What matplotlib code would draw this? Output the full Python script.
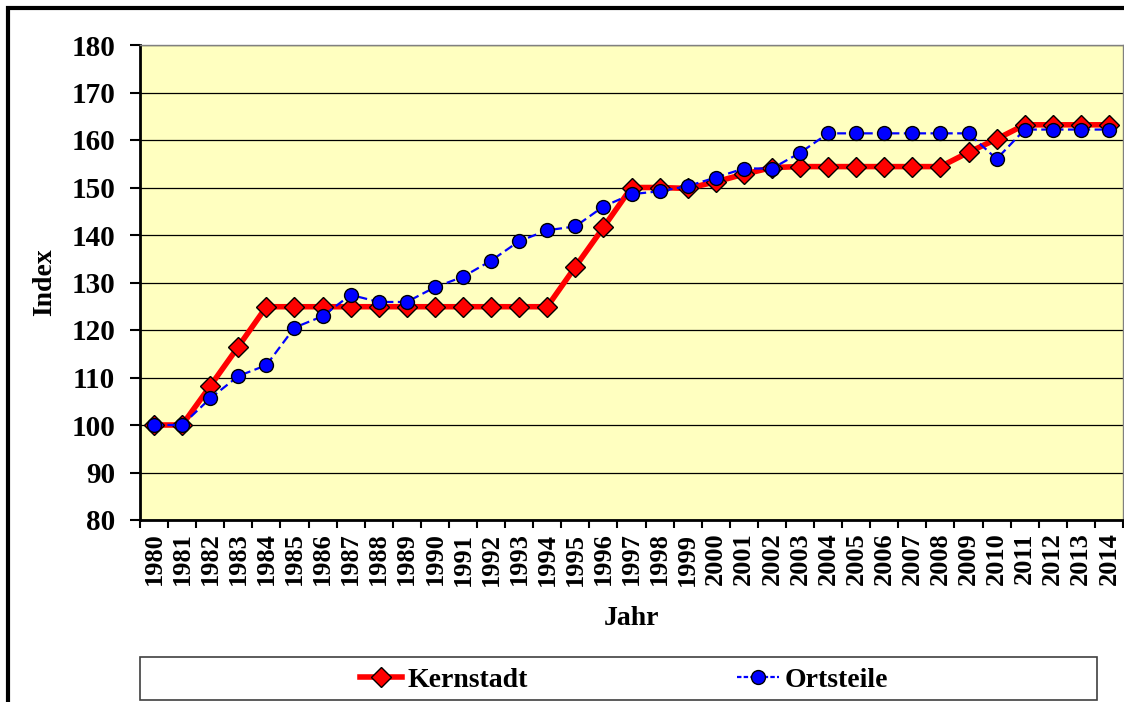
"""Indexentwicklung Kernstadt / Ortsteile 1980-2014 als Liniendiagramm."""

import matplotlib
matplotlib.use('Agg')
import matplotlib.pyplot as plt
from matplotlib.lines import Line2D
from matplotlib.patches import Rectangle
from matplotlib.ticker import FixedLocator

jahre = list(range(1980, 2015))

kernstadt = [100.0, 100.0, 108.2, 116.5, 124.9, 124.9, 124.9, 124.9, 124.9, 124.9,
             124.9, 124.9, 124.9, 124.9, 124.9, 133.3, 141.6, 150.0, 150.0, 149.8,
             151.2, 152.8, 154.2, 154.4, 154.4, 154.4, 154.4, 154.4, 154.4, 157.4,
             160.2, 163.2, 163.2, 163.2, 163.2]

ortsteile = [100.0, 100.0, 105.6, 110.3, 112.6, 120.5, 122.9, 127.4, 125.9, 125.9,
             129.0, 131.2, 134.6, 138.7, 141.0, 141.8, 146.0, 148.6, 149.2, 150.3,
             152.1, 154.0, 154.0, 157.3, 161.4, 161.4, 161.4, 161.4, 161.4, 161.4,
             156.0, 162.2, 162.2, 162.2, 162.2]

plt.rcParams['font.family'] = ['Liberation Serif', 'DejaVu Serif']
plt.rcParams['font.weight'] = 'bold'

fig = plt.figure(figsize=(11.24, 7.02), dpi=100)
ax = fig.add_axes([140 / 1124, 182 / 702, 983 / 1124, 475 / 702])
ax.set_facecolor('#FFFFC0')

ax.plot(jahre, kernstadt, color='#FF0000', lw=4, marker='D', ms=10,
        mfc='#FF0000', mec='black', mew=1, zorder=3, label='Kernstadt')
ax.plot(jahre, ortsteile, color='#0000FF', lw=1.6, ls=(0, (4, 2)), marker='o', ms=10,
        mfc='#0000FF', mec='black', mew=1, zorder=4, label='Ortsteile')

ax.set_xlim(1979.5, 2014.5)
ax.set_ylim(80, 180)
ax.set_yticks(range(80, 181, 10))
ax.yaxis.grid(True, color='black', lw=0.9)
ax.set_axisbelow(True)

ax.set_xticks(jahre)
ax.set_xticklabels([str(j) for j in jahre], rotation=90, fontsize=19, fontweight='bold')
ax.xaxis.set_minor_locator(FixedLocator([j + 0.5 for j in range(1979, 2015)]))
ax.tick_params(axis='x', which='major', length=0, pad=9)
ax.tick_params(axis='x', which='minor', length=6, width=1.5, direction='out')
ax.tick_params(axis='y', length=7, width=1.5, direction='out', labelsize=21, pad=11)
for lab in ax.get_yticklabels():
    lab.set_fontweight('bold')

for side in ('top', 'right'):
    ax.spines[side].set_color('#808080')
    ax.spines[side].set_linewidth(1)
for side in ('left', 'bottom'):
    ax.spines[side].set_color('black')
    ax.spines[side].set_linewidth(2)

ax.set_ylabel('Index', fontsize=20, fontweight='bold', labelpad=10)
ax.set_xlabel('Jahr', fontsize=20, fontweight='bold', labelpad=15)

# Rahmen um das ganze Diagramm
fig.patches.append(Rectangle((8 / 1124, -0.05), 1.2, 0.05 + 694 / 702,
                             transform=fig.transFigure, fill=False,
                             edgecolor='black', lw=3))

# Legende in eigenem Kasten unter dem Diagramm
fig.patches.append(Rectangle((140 / 1124, 2 / 702), 957 / 1124, 43 / 702,
                             transform=fig.transFigure, fill=True, facecolor='white',
                             edgecolor='#404040', lw=1.2))
eintraege = [
    (Line2D([], [], color='#FF0000', lw=4, marker='D', ms=10, mfc='#FF0000',
            mec='black', mew=1), 'Kernstadt', 360),
    (Line2D([], [], color='#0000FF', lw=1.6, ls=(0, (2, 1)), marker='o', ms=10,
            mfc='#0000FF', mec='black', mew=1), 'Ortsteile', 737),
]
for handle, name, x0 in eintraege:
    fig.legend([handle], [name], loc='center left',
               bbox_to_anchor=(x0 / 1124, 1 - 680 / 702), frameon=False,
               prop={'size': 20, 'weight': 'bold'}, handlelength=1.5,
               handletextpad=0.2, borderpad=0, borderaxespad=0)

fig.savefig('out.png', dpi=100)
